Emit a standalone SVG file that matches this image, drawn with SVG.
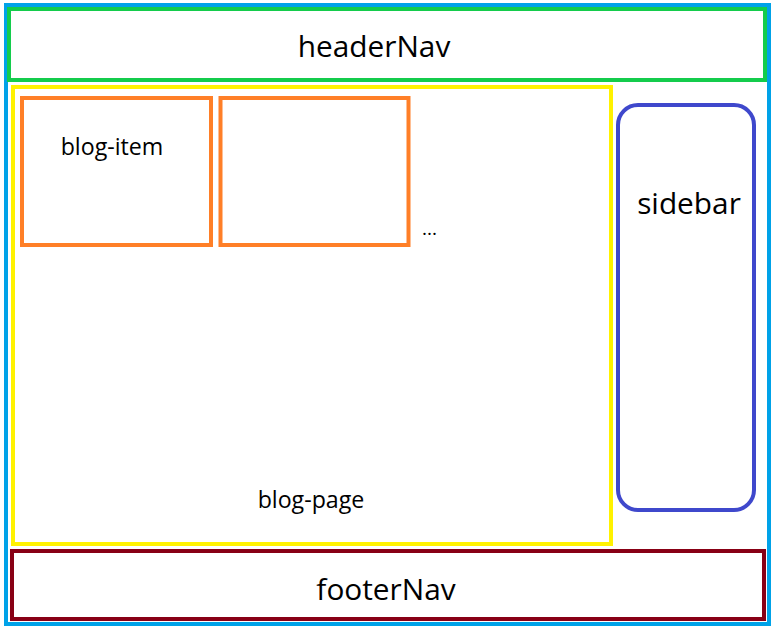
<svg xmlns="http://www.w3.org/2000/svg" width="778" height="633" viewBox="0 0 778 633">
<style>
  .box { fill: none; stroke-width: 4; }
  .t { font-family: "Open Sans", "Noto Sans", "DejaVu Sans", sans-serif; fill: #000; }
  .big { font-size: 29.8px; }
  .small { font-size: 23.2px; }
</style>
<rect width="778" height="633" fill="#fff"/>
<g id="page">
  <rect class="box" x="6" y="5" width="763" height="619" stroke="#00a2e8"/>
</g>
<g id="headerNav">
  <rect class="box" x="9" y="9" width="756" height="71" stroke="#14cc4c"/>
  <text class="t big" x="374" y="57" text-anchor="middle">headerNav</text>
</g>
<g id="blog-page">
  <rect class="box" x="13" y="87" width="598" height="457" stroke="#fff200"/>
  <text class="t small" x="311" y="508" text-anchor="middle">blog-page</text>
</g>
<g id="blog-item-1">
  <rect class="box" x="22" y="98" width="189" height="147" stroke="#ff7f27"/>
  <text class="t small" x="112" y="155" text-anchor="middle">blog-item</text>
</g>
<g id="blog-item-2">
  <rect class="box" x="220.5" y="98" width="188" height="147" stroke="#ff7f27"/>
</g>
<g id="ellipsis">
  <text class="t" font-size="19" x="429.5" y="235" text-anchor="middle">...</text>
</g>
<g id="sidebar">
  <rect class="box" x="618" y="105" width="136" height="405" rx="20" ry="20" stroke="#3f48cc"/>
  <text class="t big" x="689" y="213.5" text-anchor="middle">sidebar</text>
</g>
<g id="footerNav">
  <rect class="box" x="12" y="551" width="752" height="68" stroke="#880015"/>
  <text class="t big" x="386" y="600" text-anchor="middle">footerNav</text>
</g>
<g id="connectors"></g>
</svg>
